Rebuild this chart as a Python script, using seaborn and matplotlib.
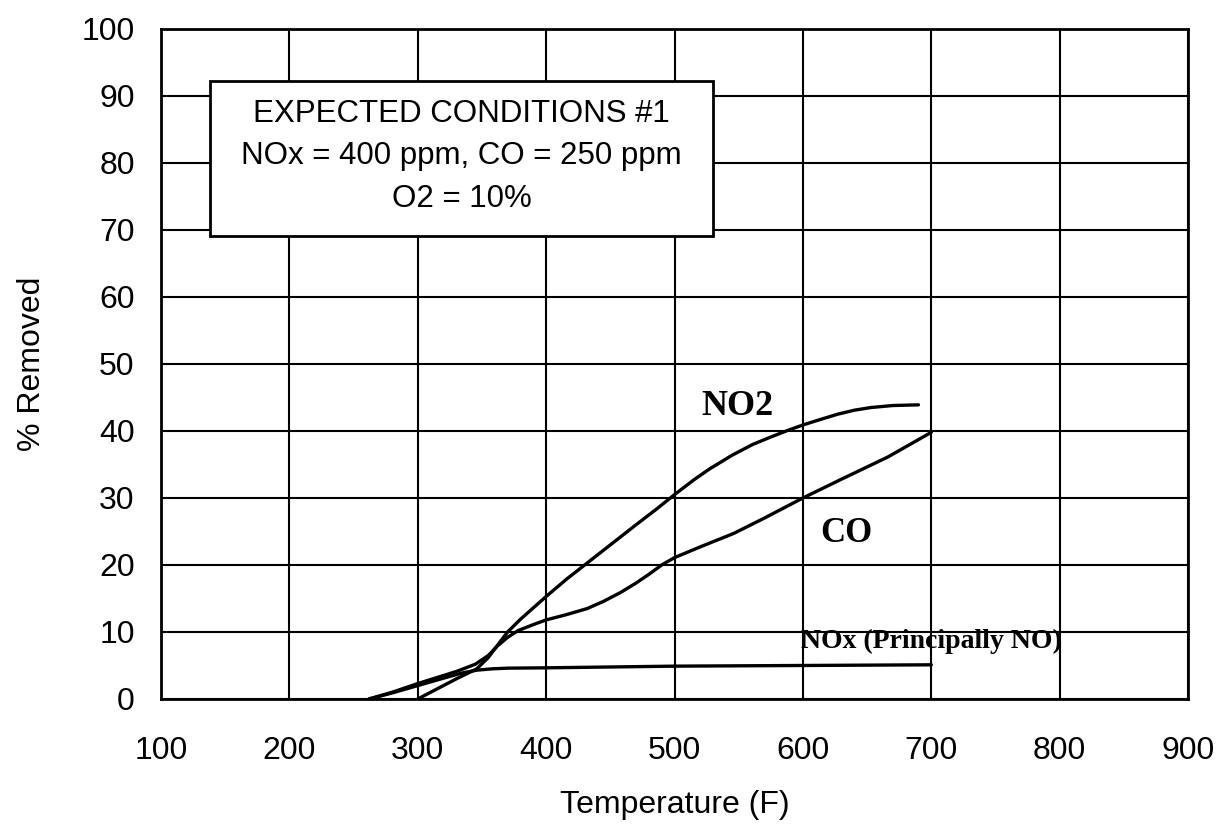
import matplotlib
matplotlib.use("Agg")
import matplotlib.pyplot as plt
import seaborn as sns
import pandas as pd
from matplotlib.patches import Rectangle

# ---- data ----
no2_temp = [300, 315, 330, 346, 355, 362, 370, 380, 390, 400, 416, 432, 450, 470, 485, 500,
            515, 527, 545, 561, 575, 587, 600, 615, 627, 640, 653, 670, 690]
no2_pct = [0.0, 1.5, 3.0, 4.5, 6.2, 8.0, 10.0, 11.9, 13.6, 15.3, 17.9, 20.3, 23.0, 26.0, 28.2, 30.5,
           32.7, 34.3, 36.4, 38.0, 39.1, 40.0, 40.9, 41.8, 42.5, 43.1, 43.5, 43.8, 43.9]

co_temp = [262, 280, 300, 315, 330, 345, 355, 362, 370, 378, 390, 400, 416, 432, 445, 458, 470,
           480, 490, 500, 520, 546, 570, 600, 630, 666, 700]
co_pct = [0.0, 1.0, 2.3, 3.2, 4.1, 5.2, 6.5, 7.9, 9.2, 10.2, 11.1, 11.8, 12.6, 13.5, 14.6, 15.9, 17.3,
          18.6, 20.0, 21.1, 22.7, 24.7, 27.0, 30.0, 32.8, 36.1, 39.8]

nox_temp = [262, 280, 300, 320, 335, 346, 358, 370, 400, 500, 600, 700]
nox_pct = [0.0, 0.9, 2.0, 3.1, 3.9, 4.3, 4.5, 4.6, 4.65, 4.9, 5.0, 5.1]

x_ticks = [100, 200, 300, 400, 500, 600, 700, 800, 900]
y_ticks = [0, 10, 20, 30, 40, 50, 60, 70, 80, 90, 100]

box_lines = ["EXPECTED CONDITIONS #1", "NOx = 400 ppm, CO = 250 ppm", "O2 = 10%"]
series_labels = ["NO2", "CO", "NOx (Principally NO)"]

# ---- style ----
sns.set_style("white")
plt.rcParams['font.family'] = ['Liberation Sans', 'DejaVu Sans']
plt.rcParams['text.color'] = 'black'
plt.rcParams['axes.labelcolor'] = 'black'
plt.rcParams['xtick.color'] = 'black'
plt.rcParams['ytick.color'] = 'black'

fig = plt.figure(figsize=(12.19, 8.38), dpi=100)
ax = fig.add_axes([0.1321, 0.1659, 0.8425, 0.7995])

df_no2 = pd.DataFrame({"T": no2_temp, "P": no2_pct})
df_co = pd.DataFrame({"T": co_temp, "P": co_pct})
df_nox = pd.DataFrame({"T": nox_temp, "P": nox_pct})

for d in (df_nox, df_co, df_no2):
    sns.lineplot(data=d, x="T", y="P", ax=ax, color="black", linewidth=2.4,
                 sort=False, estimator=None, zorder=3)

ax.set_xlim(100, 900)
ax.set_ylim(0, 100)
ax.set_xticks(x_ticks)
ax.set_yticks(y_ticks)
ax.grid(True, color="black", linewidth=1.5)
ax.set_axisbelow(True)
for s in ax.spines.values():
    s.set_visible(True)
    s.set_color("black")
    s.set_linewidth(2.0)

ax.tick_params(axis="both", which="major", direction="out", length=7, width=1.5,
               color="black", labelsize=23, labelcolor="black")
ax.tick_params(axis="x", pad=20)
ax.tick_params(axis="y", pad=12)
ax.set_xlabel("Temperature (F)", fontsize=23, labelpad=17, color="black")
ax.set_ylabel("% Removed", fontsize=23, labelpad=25, color="black")

# annotation box
rect = Rectangle((138, 69.1), 392, 23.1, facecolor="white", edgecolor="black",
                 linewidth=2.0, zorder=4)
ax.add_patch(rect)
ax.text(334, 81.0, "\n".join(box_lines), ha="center", va="center", fontsize=22.5,
        linespacing=1.55, color="black", zorder=5)

serif = ['Liberation Serif', 'DejaVu Serif']
ax.text(549, 42.4, series_labels[0], ha="center", va="baseline", fontsize=26,
        fontweight="bold", family=serif, color="black", zorder=5)
ax.text(634, 23.4, series_labels[1], ha="center", va="baseline", fontsize=25,
        fontweight="bold", family=serif, color="black", zorder=5)
ax.text(700, 7.6, series_labels[2], ha="center", va="baseline", fontsize=20,
        fontweight="bold", family=serif, color="black", zorder=5)

fig.savefig("out.png", dpi=100, facecolor="white")
